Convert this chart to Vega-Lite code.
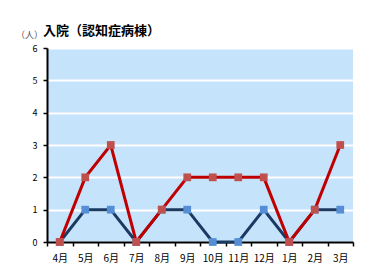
{
  "$schema": "https://vega.github.io/schema/vega-lite/v6.json",
  "width": 306,
  "height": 194,
  "autosize": {"type": "none"},
  "padding": {"left": 47, "top": 48, "right": 22, "bottom": 36},
  "background": "white",
  "config": {
    "font": "Noto Sans CJK JP",
    "view": {"fill": "#C5E3FB", "stroke": null}
  },
  "title": {
    "text": "入院（認知症病棟）",
    "anchor": "start",
    "frame": "group",
    "dx": -4,
    "dy": 18,
    "offset": 10,
    "fontSize": 13,
    "fontWeight": "bold",
    "font": "Noto Sans CJK JP",
    "color": "#000000"
  },
  "data": {
    "values": [
      {"month": "4月", "series": "A", "value": 0},
      {"month": "5月", "series": "A", "value": 1},
      {"month": "6月", "series": "A", "value": 1},
      {"month": "7月", "series": "A", "value": 0},
      {"month": "8月", "series": "A", "value": 1},
      {"month": "9月", "series": "A", "value": 1},
      {"month": "10月", "series": "A", "value": 0},
      {"month": "11月", "series": "A", "value": 0},
      {"month": "12月", "series": "A", "value": 1},
      {"month": "1月", "series": "A", "value": 0},
      {"month": "2月", "series": "A", "value": 1},
      {"month": "3月", "series": "A", "value": 1},
      {"month": "4月", "series": "B", "value": 0},
      {"month": "5月", "series": "B", "value": 2},
      {"month": "6月", "series": "B", "value": 3},
      {"month": "7月", "series": "B", "value": 0},
      {"month": "8月", "series": "B", "value": 1},
      {"month": "9月", "series": "B", "value": 2},
      {"month": "10月", "series": "B", "value": 2},
      {"month": "11月", "series": "B", "value": 2},
      {"month": "12月", "series": "B", "value": 2},
      {"month": "1月", "series": "B", "value": 0},
      {"month": "2月", "series": "B", "value": 1},
      {"month": "3月", "series": "B", "value": 3}
    ]
  },
  "encoding": {
    "x": {
      "field": "month",
      "type": "ordinal",
      "sort": null,
      "scale": {"type": "band", "paddingInner": 0, "paddingOuter": 0},
      "axis": {
        "title": null,
        "labelAngle": 0,
        "labelFontSize": 10,
        "labelColor": "#000000",
        "labelPadding": 7,
        "tickBand": "extent",
        "tickColor": "#000000",
        "tickWidth": 1.5,
        "tickSize": 4,
        "domainColor": "#000000",
        "domainWidth": 2,
        "grid": false
      }
    },
    "y": {
      "field": "value",
      "type": "quantitative",
      "scale": {"domain": [0, 6], "nice": false},
      "axis": {
        "values": [0, 1, 2, 3, 4, 5, 6],
        "title": "（人）",
        "titleAngle": 0,
        "titleFontSize": 9,
        "titleFontWeight": "normal",
        "titleColor": "#555555",
        "titleX": -18,
        "titleY": -9,
        "titleAlign": "center",
        "labelFontSize": 9,
        "labelColor": "#000000",
        "labelPadding": 6,
        "tickColor": "#000000",
        "tickWidth": 1.5,
        "tickSize": 4,
        "domainColor": "#000000",
        "domainWidth": 2,
        "grid": true,
        "gridColor": "#FFFFFF",
        "gridWidth": 2,
        "gridOpacity": 1
      }
    }
  },
  "layer": [
    {
      "mark": {"type": "line", "strokeWidth": 3},
      "encoding": {
        "color": {
          "field": "series",
          "type": "nominal",
          "scale": {"domain": ["A", "B"], "range": ["#1B3A62", "#C00000"]},
          "legend": null
        }
      }
    },
    {
      "mark": {"type": "point", "shape": "square", "filled": true, "opacity": 1, "size": 60},
      "encoding": {
        "fill": {
          "field": "series",
          "type": "nominal",
          "scale": {"domain": ["A", "B"], "range": ["#558ED5", "#C0504D"]},
          "legend": null
        }
      }
    }
  ]
}
